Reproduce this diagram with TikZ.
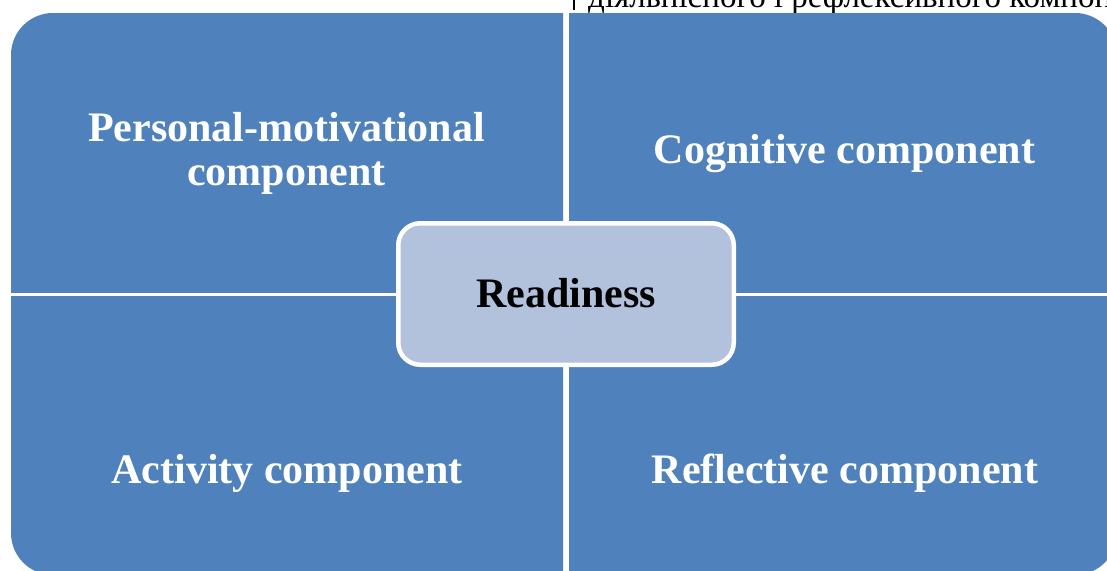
\documentclass[tikz,border=0pt]{standalone}
\usepackage{fontspec}
\setmainfont{Liberation Serif}
\definecolor{qblue}{HTML}{4F81BD}
\definecolor{cfill}{HTML}{B2C1DC}
\begin{document}
\begin{tikzpicture}[x=1pt,y=-1pt,
  quad/.style={fill=qblue,draw=none,rounded corners=42pt},
  lbl/.style={text=white,font=\fontsize{42}{44}\selectfont\bfseries,align=center,anchor=base,inner sep=0pt},
  centerbox/.style={draw=white,line width=4.5pt,fill=cfill,rounded corners=22pt,inner sep=0pt,minimum width=335.5pt,minimum height=141.5pt}]
\useasboundingbox (0,0) rectangle (1107,570);
\clip (0,0) rectangle (1107,570);
% cut-off line of document text above the diagram
\node[anchor=base west,inner sep=0pt,font=\fontsize{33}{35}\selectfont] (doctext) at (588,8) {діяльнісного і рефлексивного компонентів};
\fill (573,0) rectangle (575,9.5);
% quadrants
\begin{scope}
  \clip (11,13) rectangle (563,292);
  \fill[quad] (11,13) rectangle (800,500);
\end{scope}
\begin{scope}
  \clip (569,13) rectangle (1117,292);
  \fill[quad] (1117,13) rectangle (300,500);
\end{scope}
\begin{scope}
  \clip (11,296.5) rectangle (563,575);
  \fill[quad] (11,575) rectangle (800,100);
\end{scope}
\begin{scope}
  \clip (569,296.5) rectangle (1117,575);
  \fill[quad] (1117,575) rectangle (300,100);
\end{scope}
% labels
\node[lbl] (pm) at (286.5,185) {Personal-motivational\\component};
\node[lbl] (cog) at (844.5,163) {Cognitive component};
\node[lbl] (act) at (287,483) {Activity component};
\node[lbl] (refl) at (845,483) {Reflective component};
% centre
\node[centerbox] (ready) at (566,294) {};
\node[lbl,text=black] (readytext) at (566,307) {Readiness};
\end{tikzpicture}
\end{document}
